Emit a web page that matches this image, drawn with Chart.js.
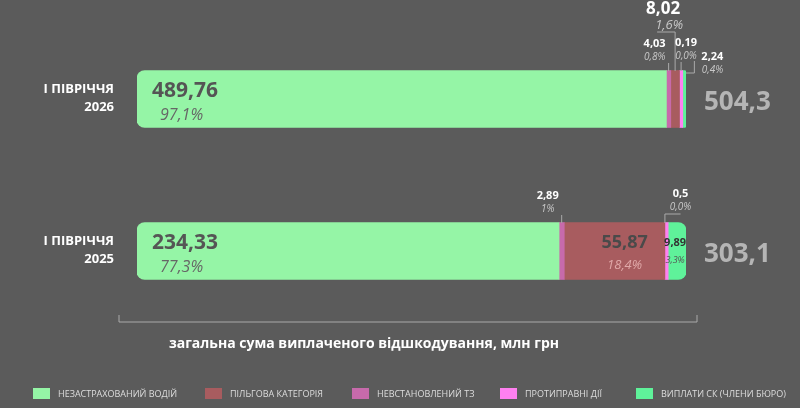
<!DOCTYPE html><html><head><meta charset="utf-8">
<script src="https://cdn.jsdelivr.net/npm/chart.js@4"></script>
<style>html,body{margin:0;background:#5b5b5b}#w{width:800px;height:408px}</style></head><body><div id="w"><canvas id="c"></canvas></div>
<script>
const categories=['I ПІВРІЧЧЯ 2026','I ПІВРІЧЧЯ 2025'];
const seriesNames=['Незастрахований водій','Невстановлений ТЗ','Пільгова категорія','Протиправні дії','Виплати СК (члени бюро)'];
const uninsured=[489.76,234.33];
const unknownVeh=[4.03,2.89];
const privileged=[8.02,55.87];
const illegal=[0.19,0.5];
const bureau=[2.24,9.89];
const totals=['504,3','303,1'];
const shareLabels=[['97,1%','0,8%','1,6%','0,0%','0,4%'],['77,3%','1%','18,4%','0,0%','3,3%']];
const colors=['#95f5a6','#c76aab','#a85c5f','#ff80f0','#5ff29a'];
const legendOrder=[0,2,1,3,4];
const raw=[uninsured,unknownVeh,privileged,illegal,bureau];
const MINSHARE=0.6; // minimum visible share (%) for tiny segments
const disp=raw.map(a=>a.map((v,i)=>Math.max(v/raw.reduce((s,b)=>s+b[i],0)*100,MINSHARE)));
const dsum=categories.map((_,i)=>disp.reduce((s,a)=>s+a[i],0));
const fmt=v=>String(v).replace('.',',');
const place=[
 [['big'],['out',-14,-55,'a'],['out',-12,-90,'b'],['out',5,-56,'c'],['out',28,-42,'d']],
 [['big'],['out',-14,-55,'a'],['mid'],['out',14,-57,'e'],['small']]
];
const F='"Open Sans"';
const plug={id:'ann',afterDraw(ch){
 const c=ch.ctx,x=ch.scales.x,y=ch.scales.y;
 c.save();
 categories.forEach((cat,i)=>{
  const yc=y.getPixelForValue(i);
  c.fillStyle='#fff';c.font='bold 13px '+F;c.textAlign='right';c.textBaseline='middle';
  const p=cat.split(' ');c.fillText(p[0]+' '+p[1],114,yc-10);c.fillText(p[2],114,yc+8);
  c.fillStyle='#b5b5b5';c.font='bold 26px '+F;c.textAlign='left';c.fillText(totals[i],x.right+18,yc+4);
  let acc=0;
  raw.forEach((arr,d)=>{
   const v=disp[d][i]/dsum[i]*100;const x0=x.getPixelForValue(acc);acc+=v;const x1=x.getPixelForValue(acc);
   const cx=(x0+x1)/2,pl=place[i][d];c.textAlign='center';c.textBaseline='middle';
   if(pl[0]==='big'){c.textAlign='left';c.fillStyle='#555';c.font='bold 21px '+F;c.fillText(fmt(arr[i]),x0+15,yc-8);
     c.fillStyle='#666';c.font='italic 16px '+F;c.fillText(shareLabels[i][d],x0+23,yc+16);}
   else if(pl[0]==='mid'){c.fillStyle='#4a4a4a';c.font='bold 18px '+F;c.fillText(fmt(arr[i]),cx+10,yc-8);
     c.fillStyle='#e0a8a8';c.font='italic 13px '+F;c.fillText(shareLabels[i][d],cx+10,yc+14);}
   else if(pl[0]==='small'){c.fillStyle='#333';c.font='bold 11px '+F;c.fillText(fmt(arr[i]),cx-2,yc-8);
     c.fillStyle='#555';c.font='italic 9px '+F;c.fillText(shareLabels[i][d],cx-2,yc+9);}
   else{
     const tx=cx+pl[1],ty=yc+pl[2],big=pl[3]==='b';
     c.fillStyle='#fff';c.font=big?'bold 17px '+F:'bold 11px '+F;c.fillText(fmt(arr[i]),tx,ty);
     c.fillStyle='#c8c8c8';c.font=big?'italic 13px '+F:'italic 10px '+F;c.fillText(shareLabels[i][d],tx+(big?6:0),ty+(big?16:13));
     c.strokeStyle='#aaa';c.lineWidth=1;c.beginPath();const top=yc-28;
     if(big){c.moveTo(tx-6,ty+23);c.lineTo(cx,ty+23);c.lineTo(cx,top);}
     else if(pl[3]==='d'){c.moveTo(tx-18,ty+4);c.lineTo(tx-18,ty+16);c.lineTo(x1,ty+16);}
     else if(pl[3]==='e'){c.moveTo(tx,ty+20);c.lineTo(x0,ty+20);c.lineTo(x0,top);}
     else{c.moveTo(cx,ty+19);c.lineTo(cx,top);}
     c.stroke();}
  });
 });
 c.strokeStyle='#aaa';c.beginPath();c.moveTo(119,315);c.lineTo(119,322);c.lineTo(697,322);c.lineTo(697,315);c.stroke();
 c.fillStyle='#fff';c.font='bold 14px '+F;c.textAlign='center';c.fillText('загальна сума виплаченого відшкодування, млн грн',364,344);
 const lx=[33,205,352,500,636];
 legendOrder.forEach((d,k)=>{c.fillStyle=colors[d];c.fillRect(lx[k],388,17,11);
  c.fillStyle='#ddd';c.font='9px '+F;c.textAlign='left';c.textBaseline='middle';c.fillText(seriesNames[d].toUpperCase(),lx[k]+25,394);});
 c.restore();}};
new Chart(document.getElementById('c'),{type:'bar',
 data:{labels:categories,datasets:raw.map((a,d)=>({label:seriesNames[d],data:disp[d].map((v,i)=>v/dsum[i]*100),backgroundColor:colors[d],
   barThickness:57,borderSkipped:false,borderRadius:d===0?{topLeft:8,bottomLeft:8}:d===4?{topRight:8,bottomRight:8}:0}))},
 options:{indexAxis:'y',responsive:true,maintainAspectRatio:false,animation:false,
  layout:{padding:{left:137,right:114,top:23,bottom:81}},
  plugins:{legend:{display:false},tooltip:{enabled:false}},
  scales:{x:{stacked:true,min:0,max:100,display:false},y:{stacked:true,display:false}}},
 plugins:[plug]});
</script></body></html>
